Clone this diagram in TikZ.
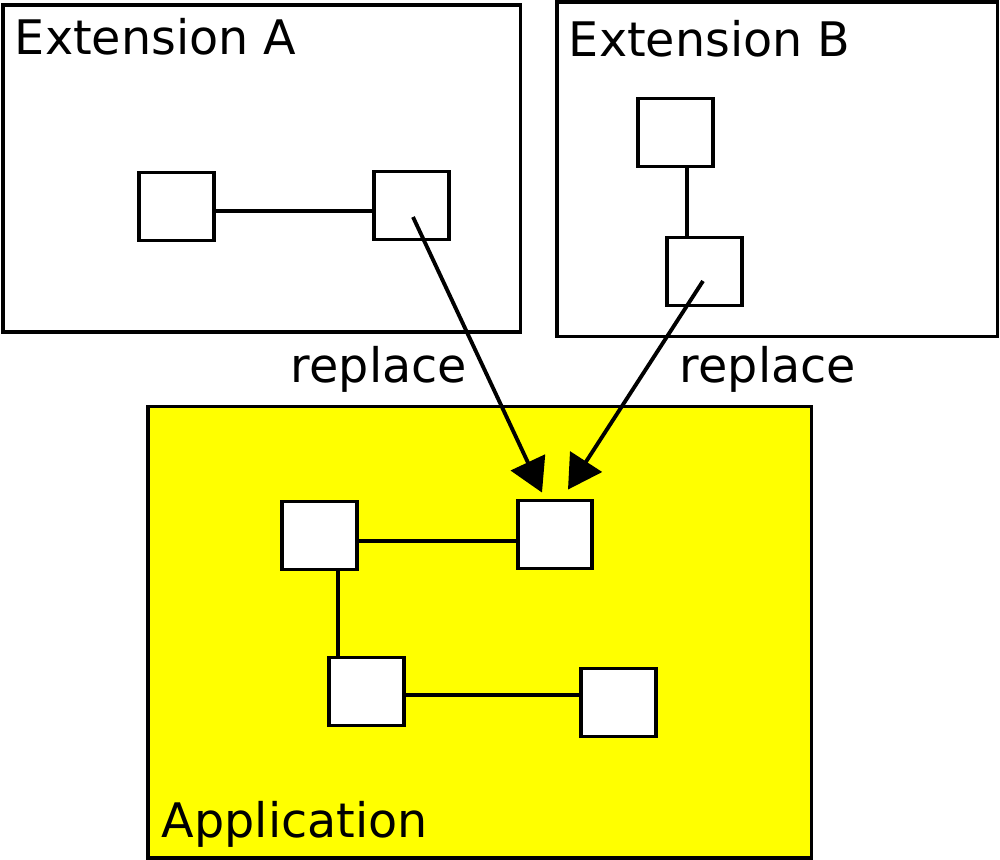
\documentclass[tikz,border=0pt]{standalone}
\usepackage{fontspec}
\setmainfont{DejaVu Sans}
\usetikzlibrary{arrows.meta,calc}
\definecolor{appyellow}{RGB}{255,255,0}

\begin{document}
\begin{tikzpicture}[x=0.75pt,y=-0.75pt,line width=2.9pt,>={Triangle[length=25pt,width=28pt]},
    box/.style={draw,fill=white,minimum width=56pt,minimum height=51pt,inner sep=0pt},
    label/.style={anchor=base west,inner sep=0pt,font=\fontsize{35.7pt}{43pt}\selectfont}]
    \useasboundingbox (0,0) rectangle (1000,860);

    % extensions and application
    \draw (3,5) rectangle (520.5,332);
    \draw (557,2) rectangle (997.5,336.5);
    \draw[fill=appyellow] (148,406.5) rectangle (811.5,858);

    \node[label] (extA) at (13,55) {Extension A};
    \node[label] (extB) at (567,56) {Extension B};
    \node[label] (app) at (160,837) {Application};

    \node[box] (A1) at (176.5,206.5) {};
    \node[box] (A2) at (411.5,205.5) {};
    \node[box] (B1) at (675.5,132.5) {};
    \node[box] (B2) at (704.5,271.5) {};
    \node[box] (P1) at (319.5,535.5) {};
    \node[box] (P2) at (555,534.5) {};
    \node[box] (P3) at (366.5,691.5) {};
    \node[box] (P4) at (618.5,702.5) {};

    \draw ([yshift=-3.4pt]A1.east) -- ([yshift=-3.4pt]A1.east -| A2.west);
    \draw ([xshift=8.6pt]B1.south) -- ([xshift=8.6pt]B1.south |- B2.north);
    \draw ([yshift=-4.1pt]P1.east) -- ([yshift=-4.1pt]P1.east -| P2.west);
    \draw ([xshift=13.9pt]P1.south) -- ([xshift=13.9pt]P1.south |- P3.north);
    \draw ([yshift=-2.6pt]P3.east) -- ([yshift=-2.6pt]P3.east -| P4.west);

    \draw[->] ($(A2)+(1.5,11.5)$) -- ($(P2.north)+(-13,-6)$);
    \draw[->] ($(B2)+(-1.5,9.5)$) -- ($(P2.north)+(13,-9)$);

    \node[label] (repA) at (289,382) {replace};
    \node[label] (repB) at (678,382) {replace};
\end{tikzpicture}
\end{document}
